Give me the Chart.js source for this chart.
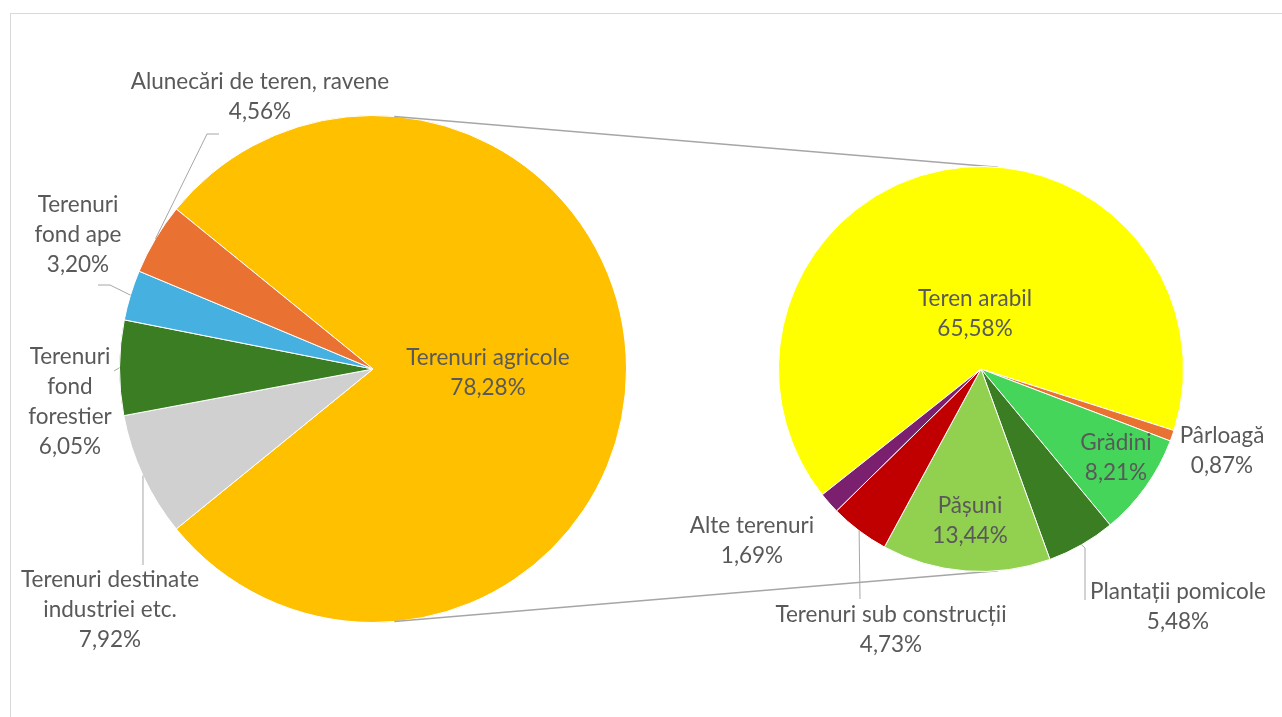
<!DOCTYPE html>
<html lang="ro">
<head>
<meta charset="UTF-8">
<title>Fond funciar</title>
<script src="https://cdn.jsdelivr.net/npm/chart.js@4.4.0/dist/chart.umd.min.js"></script>
<style>
  html, body { margin: 0; padding: 0; background: #fff; overflow: hidden; }
  .frame { position: absolute; left: 10px; top: 13px; width: 1400px; height: 800px; border: 1px solid #d9d9d9; }
  canvas { position: absolute; left: 0; top: 0; }
</style>
</head>
<body>
<div class="frame"></div>
<canvas id="mainPie" width="1282" height="717"></canvas>
<canvas id="subPie" width="1282" height="717"></canvas>
<script>
  // date
  const mainCategories = ['Terenuri agricole', 'Terenuri destinate industriei etc.', 'Terenuri fond forestier', 'Terenuri fond ape', 'Alunecări de teren, ravene'];
  const mainValues = [78.28, 7.92, 6.05, 3.20, 4.56];
  const subCategories = ['Teren arabil', 'Pârloagă', 'Grădini', 'Plantații pomicole', 'Pășuni', 'Terenuri sub construcții', 'Alte terenuri'];
  const subValues = [65.58, 0.87, 8.21, 5.48, 13.44, 4.73, 1.69];

  const mainColors = ['#FFC000', '#D0D0D0', '#3A7D22', '#46B1E1', '#E97132'];
  const subColors = ['#FFFF00', '#E97132', '#45D55A', '#3A7D22', '#92D050', '#C00000', '#7A206F'];

  const FONT = '22.5px Lato, "Noto Sans", sans-serif';
  const TEXT = '#595959';
  const LINE = '#a6a6a6';
  const LH = 30;

  // pozitii etichete (centru primei linii), latime de rupere, linie de legatura
  const mainLayout = [
    { x: 488, y: 358, wrap: 400 },
    { x: 110, y: 580, wrap: 195, leader: [[143, 565]] },
    { x: 70, y: 357, wrap: 95, leader: [[114, 371]] },
    { x: 78, y: 205, wrap: 105, leader: [[110, 285], [98, 285]] },
    { x: 260, y: 82, wrap: 400, leader: [[207, 134], [219, 134]] }
  ];
  const subLayout = [
    { x: 975, y: 299, wrap: 300 },
    { x: 1222, y: 436, wrap: 200 },
    { x: 1116, y: 443, wrap: 200 },
    { x: 1178, y: 592, wrap: 300, leader: [[1085, 548], [1085, 600]] },
    { x: 970, y: 506, wrap: 200 },
    { x: 891, y: 615, wrap: 300, leader: [[860, 599]] },
    { x: 752, y: 526, wrap: 200 }
  ];

  const fmt = v => v.toFixed(2).replace('.', ',') + '%';

  function wrapText(ctx, text, maxW) {
    const words = text.split(' ');
    const lines = [];
    let cur = '';
    words.forEach(w => {
      const t = cur ? cur + ' ' + w : w;
      if (cur && ctx.measureText(t).width > maxW) { lines.push(cur); cur = w; } else cur = t;
    });
    if (cur) lines.push(cur);
    return lines;
  }

  function labelPlugin(categories, values, layout) {
    return {
      id: 'sliceLabels',
      afterDraw(chart) {
        const ctx = chart.ctx;
        const arcs = chart.getDatasetMeta(0).data;
        ctx.save();
        // linii de legatura
        ctx.strokeStyle = LINE;
        ctx.lineWidth = 1;
        arcs.forEach((arc, i) => {
          const lay = layout[i];
          if (!lay.leader) return;
          const mid = (arc.startAngle + arc.endAngle) / 2;
          ctx.beginPath();
          ctx.moveTo(arc.x + Math.cos(mid) * arc.outerRadius, arc.y + Math.sin(mid) * arc.outerRadius);
          lay.leader.forEach(p => ctx.lineTo(p[0], p[1]));
          ctx.stroke();
        });
        // texte
        ctx.font = FONT;
        ctx.fillStyle = TEXT;
        ctx.textAlign = 'center';
        ctx.textBaseline = 'middle';
        categories.forEach((c, i) => {
          const lay = layout[i];
          const lines = wrapText(ctx, c, lay.wrap).concat([fmt(values[i])]);
          lines.forEach((l, k) => ctx.fillText(l, lay.x, lay.y + k * LH));
        });
        ctx.restore();
      }
    };
  }

  const mainChart = new Chart(document.getElementById('mainPie'), {
    type: 'pie',
    data: {
      labels: mainCategories,
      datasets: [{ data: mainValues, backgroundColor: mainColors, borderColor: '#fff', borderWidth: 1 }]
    },
    options: {
      responsive: false,
      animation: false,
      rotation: 90 - mainValues[0] / mainValues.reduce((a, b) => a + b, 0) * 180,
      layout: { padding: { left: 119, right: 655, top: 115, bottom: 94 } },
      plugins: { legend: { display: false }, tooltip: { enabled: false } }
    },
    plugins: [labelPlugin(mainCategories, mainValues, mainLayout)]
  });

  // linii de legatura intre cele doua placinte (tangente exterioare)
  const connectorPlugin = {
    id: 'connectors',
    beforeDatasetsDraw(chart) {
      const a = mainChart.getDatasetMeta(0).data[0];
      const b = chart.getDatasetMeta(0).data[0];
      const dx = b.x - a.x, dy = b.y - a.y;
      const d = Math.hypot(dx, dy);
      const ux = dx / d, uy = dy / d;
      const c = (a.outerRadius - b.outerRadius) / d;
      const s = Math.sqrt(1 - c * c);
      const ctx = chart.ctx;
      ctx.save();
      ctx.strokeStyle = LINE;
      ctx.lineWidth = 1.5;
      [-1, 1].forEach(sign => {
        const nx = ux * c - sign * uy * s;
        const ny = uy * c + sign * ux * s;
        ctx.beginPath();
        ctx.moveTo(a.x + nx * a.outerRadius, a.y + ny * a.outerRadius);
        ctx.lineTo(b.x + nx * b.outerRadius, b.y + ny * b.outerRadius);
        ctx.stroke();
      });
      ctx.restore();
    }
  };

  new Chart(document.getElementById('subPie'), {
    type: 'pie',
    data: {
      labels: subCategories,
      datasets: [{ data: subValues, backgroundColor: subColors, borderColor: '#fff', borderWidth: 1 }]
    },
    options: {
      responsive: false,
      animation: false,
      rotation: 231.6,
      layout: { padding: { left: 778, right: 98, top: 166, bottom: 145 } },
      plugins: { legend: { display: false }, tooltip: { enabled: false } }
    },
    plugins: [connectorPlugin, labelPlugin(subCategories, subValues, subLayout)]
  });
</script>
</body>
</html>
